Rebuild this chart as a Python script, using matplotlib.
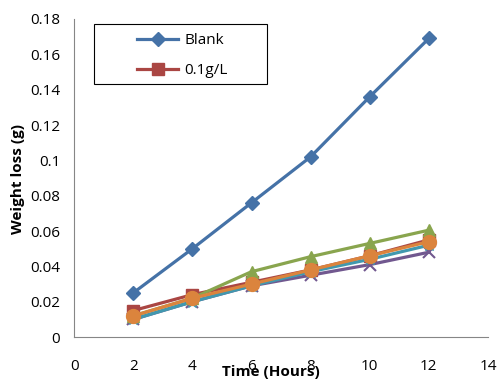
import matplotlib.pyplot as plt
from matplotlib.patches import Rectangle

hours = [2, 4, 6, 8, 10, 12]
blank = [0.025, 0.050, 0.076, 0.102, 0.136, 0.169]
c01 = [0.015, 0.024, 0.031, 0.038, 0.046, 0.055]
c02 = [0.012, 0.022, 0.037, 0.0455, 0.053, 0.0605]
c03 = [0.010, 0.020, 0.029, 0.035, 0.041, 0.048]
c04 = [0.010, 0.020, 0.029, 0.037, 0.044, 0.052]
c05 = [0.012, 0.022, 0.030, 0.038, 0.046, 0.054]

plt.rcParams['font.family'] = ['Open Sans', 'DejaVu Sans']

fig = plt.figure(figsize=(5.01, 3.80), dpi=100)
ax = fig.add_axes([0.148, 0.113, 0.826, 0.837])

l1, = ax.plot(hours, blank, color='#4572A7', lw=2.3, marker='D', ms=7, label='Blank')
l2, = ax.plot(hours, c01, color='#AA4643', lw=2.3, marker='s', ms=8, label='0.1g/L')
ax.plot(hours, c03, color='#71588F', lw=2.3, marker='x', ms=9, mew=1.5)
ax.plot(hours, c04, color='#4198AF', lw=2.3, marker='*', ms=9)
ax.plot(hours, c02, color='#89A54E', lw=2.3, marker='^', ms=9)
ax.plot(hours, c05, color='#DB843D', lw=2.3, marker='o', ms=10)

ax.set_xlim(0, 14)
ax.set_ylim(0, 0.18)
ax.set_xticks(range(0, 15, 2))
ax.set_yticks([0, 0.02, 0.04, 0.06, 0.08, 0.1, 0.12, 0.14, 0.16, 0.18])
ax.set_yticklabels(['0', '0.02', '0.04', '0.06', '0.08', '0.1', '0.12', '0.14', '0.16', '0.18'])
ax.tick_params(length=0, labelsize=11, pad=10)
ax.tick_params(axis='x', pad=16)
for s in ['top', 'right']:
    ax.spines[s].set_visible(False)
for s in ['left', 'bottom']:
    ax.spines[s].set_color('#868686')

fig.text(0.036, 0.53, 'Weight loss (g)', rotation=90, ha='center', va='center',
         fontsize=11, fontweight='bold')
fig.text(0.54, 0.02, 'Time (Hours)', ha='center', va='center',
         fontsize=11, fontweight='bold')

# legend box (Excel draws it wider than its content)
box = Rectangle((94 / 501, 1 - 84 / 380), 173 / 501, 60 / 380,
                transform=fig.transFigure, facecolor='white',
                edgecolor='black', lw=0.8, zorder=4, clip_on=False)
ax.add_patch(box)
leg = ax.legend(handles=[l1, l2], loc='upper left', bbox_to_anchor=(134 / 501, 1 - 30 / 380),
                bbox_transform=fig.transFigure, frameon=False,
                fontsize=11, handlelength=2.7, handletextpad=0.4,
                borderpad=0.2, labelspacing=1.0, borderaxespad=0)
leg.set_zorder(6)

fig.savefig('out.png', dpi=100)
